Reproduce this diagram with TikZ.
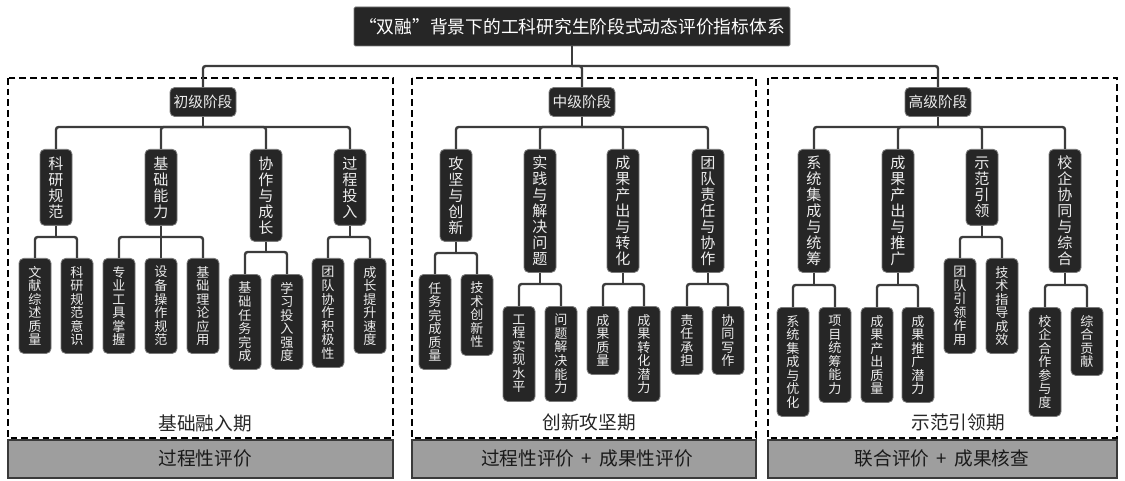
\documentclass[tikz,border=0pt]{standalone}
\usepackage{fontspec}
\newfontfamily\cjk{Noto Sans CJK SC}
\usetikzlibrary{calc}
\def\vstackloop#1#2\vstackend{#1\ifx\relax#2\relax\else\\\vstackloop#2\vstackend\fi}
\def\vstack#1{\vstackloop#1\vstackend}
\definecolor{boxfill}{HTML}{262626}
\definecolor{boxline}{HTML}{7A7A7A}
\definecolor{boxtext}{HTML}{ECECEC}
\definecolor{connc}{HTML}{3C3C3C}
\definecolor{barfill}{HTML}{9E9E9E}
\definecolor{bardraw}{HTML}{3A3A3A}
\begin{document}
\begin{tikzpicture}[x=0.75pt,y=-0.75pt,
  box/.style={draw=boxline, fill=boxfill, text=boxtext, rounded corners=3.5pt, line width=0.6pt, inner sep=0pt, minimum width=24pt, align=center},
  leafnode/.style={box, anchor=north, font=\cjk\fontsize{9.8}{10.15}\selectfont},
  midnode/.style={box, anchor=north, font=\cjk\fontsize{11.3}{12}\selectfont},
  stagenode/.style={box, minimum width=49.5pt, minimum height=21.75pt, font=\cjk\fontsize{11}{12}\selectfont},
  titlenode/.style={draw=boxline, fill=boxfill, text=white, line width=0.6pt, rounded corners=1pt, minimum width=327pt, minimum height=29.25pt, inner sep=0pt, font=\cjk\fontsize{13.3}{15}\selectfont},
  h4/.style={minimum height=51pt}, h5/.style={minimum height=60.75pt},
  h6/.style={minimum height=71.25pt}, h7/.style={minimum height=81.75pt},
  m4/.style={minimum height=57pt}, m5/.style={minimum height=69pt}, m7/.style={minimum height=92.25pt},
  conn/.style={draw=connc, line width=1.8pt, rounded corners=2pt},
  panel/.style={draw=black, dash pattern=on 5pt off 3pt, line width=1.3pt},
  bar/.style={draw=bardraw, fill=barfill, line width=1pt},
  periodlabel/.style={font=\cjk\fontsize{14}{16}\selectfont, text=black!85},
  barlabel/.style={font=\cjk\fontsize{14}{16}\selectfont, text=black!90}
]
\useasboundingbox (0,0) rectangle (1125,481);
\fill[white] (0,0) rectangle (1125,481);

% panels
\draw[panel] (8,78) rectangle (393,438);
\draw[panel] (412,78) rectangle (756,438);
\draw[panel] (768,78) rectangle (1117,438);
\draw[bar] (8,440) rectangle (393,478);
\draw[bar] (412,440) rectangle (756,478);
\draw[bar] (768,440) rectangle (1117,478);

% title and stages
\node[titlenode] (title) at (572,26.5) {“双融”背景下的工科研究生阶段式动态评价指标体系};
\node[stagenode] (s1) at (203,102) {初级阶段};
\node[stagenode] (s2) at (582,102) {中级阶段};
\node[stagenode] (s3) at (938,102) {高级阶段};

% left panel
\node[midnode,m4] (a1) at (56,149) {\vstack{科研规范}};
\node[midnode,m4] (a2) at (161,149) {\vstack{基础能力}};
\node[midnode,m5] (a3) at (266,149) {\vstack{协作与成长}};
\node[midnode,m4] (a4) at (350,149) {\vstack{过程投入}};
\node[leafnode,h6] (a11) at (35,258) {\vstack{文献综述质量}};
\node[leafnode,h6] (a12) at (77,258) {\vstack{科研规范意识}};
\node[leafnode,h6] (a21) at (119,258) {\vstack{专业工具掌握}};
\node[leafnode,h6] (a22) at (161,258) {\vstack{设备操作规范}};
\node[leafnode,h6] (a23) at (203,258) {\vstack{基础理论应用}};
\node[leafnode,h6] (a31) at (245,274) {\vstack{基础任务完成}};
\node[leafnode,h6] (a32) at (287,274) {\vstack{学习投入强度}};
\node[leafnode,h7] (a41) at (328,258) {\vstack{团队协作积极性}};
\node[leafnode,h6] (a42) at (370,258) {\vstack{成长提升速度}};

% middle panel
\node[midnode,m5] (b1) at (456,149) {\vstack{攻坚与创新}};
\node[midnode,m7] (b2) at (540,149) {\vstack{实践与解决问题}};
\node[midnode,m7] (b3) at (623,149) {\vstack{成果产出与转化}};
\node[midnode,m7] (b4) at (708,149) {\vstack{团队责任与协作}};
\node[leafnode,h6] (b11) at (435,274) {\vstack{任务完成质量}};
\node[leafnode,h5] (b12) at (477,274) {\vstack{技术创新性}};
\node[leafnode,h6] (b21) at (519,306) {\vstack{工程实现水平}};
\node[leafnode,h6] (b22) at (561,306) {\vstack{问题解决能力}};
\node[leafnode,h4] (b31) at (603,306) {\vstack{成果质量}};
\node[leafnode,h6] (b32) at (644,306) {\vstack{成果转化潜力}};
\node[leafnode,h4] (b41) at (687,306) {\vstack{责任承担}};
\node[leafnode,h4] (b42) at (728,306) {\vstack{协同写作}};

% right panel
\node[midnode,m7] (c1) at (814,149) {\vstack{系统集成与统筹}};
\node[midnode,m7] (c2) at (898,149) {\vstack{成果产出与推广}};
\node[midnode,m4] (c3) at (982,149) {\vstack{示范引领}};
\node[midnode,m7] (c4) at (1065,149) {\vstack{校企协同与综合}};
\node[leafnode,h7] (c11) at (793,307) {\vstack{系统集成与优化}};
\node[leafnode,h6] (c12) at (835,307) {\vstack{项目统筹能力}};
\node[leafnode,h6] (c21) at (877,307) {\vstack{成果产出质量}};
\node[leafnode,h6] (c22) at (918,307) {\vstack{成果推广潜力}};
\node[leafnode,h6] (c31) at (960,258) {\vstack{团队引领作用}};
\node[leafnode,h6] (c32) at (1002,258) {\vstack{技术指导成效}};
\node[leafnode,h7] (c41) at (1045,307) {\vstack{校企合作参与度}};
\node[leafnode,h4] (c42) at (1087,307) {\vstack{综合贡献}};

% period and bar labels
\node[periodlabel] (p1) at (205,423) {基础融入期};
\node[periodlabel] (p2) at (589,422) {创新攻坚期};
\node[periodlabel] (p3) at (958,422) {示范引领期};
\node[barlabel] (q1) at (205,458) {过程性评价};
\node[barlabel] (q2) at (587,458) {过程性评价 \,+\, 成果性评价};
\node[barlabel] (q3) at (942,458) {联合评价 \,+\, 成果核查};

% connectors: title
\coordinate (tb) at (572,66);
\draw[conn] (title.south) -- (tb);
\draw[conn] (tb) -| (s1.north);
\draw[conn] (tb) -| (s2.north);
\draw[conn] (tb) -| (s3.north);

% stage buses
\coordinate (s1b) at (203,127);
\coordinate (s2b) at (582,127);
\coordinate (s3b) at (938,127);
\draw[conn] (s1.south) -- (s1b);
\foreach \n in {a1,a2,a3,a4} \draw[conn] (s1b) -| (\n.north);
\draw[conn] (s2.south) -- (s2b);
\foreach \n in {b1,b2,b3,b4} \draw[conn] (s2b) -| (\n.north);
\draw[conn] (s3.south) -- (s3b);
\foreach \n in {c1,c2,c3,c4} \draw[conn] (s3b) -| (\n.north);

% leaf buses
\coordinate (a1b) at (56,237);
\coordinate (a2b) at (161,237);
\coordinate (a3b) at (266,252);
\coordinate (a4b) at (350,237);
\coordinate (b1b) at (456,253);
\coordinate (b2b) at (540,284);
\coordinate (b3b) at (623,284);
\coordinate (b4b) at (708,284);
\coordinate (c1b) at (814,285);
\coordinate (c2b) at (898,285);
\coordinate (c3b) at (982,237);
\coordinate (c4b) at (1065,285);
\foreach \p/\kids in {a1/{a11,a12},a2/{a21,a22,a23},a3/{a31,a32},a4/{a41,a42},
                       b1/{b11,b12},b2/{b21,b22},b3/{b31,b32},b4/{b41,b42},
                       c1/{c11,c12},c2/{c21,c22},c3/{c31,c32},c4/{c41,c42}}{
  \draw[conn] (\p.south) -- (\p b);
  \foreach \k in \kids \draw[conn] (\p b) -| (\k.north);
}
\end{tikzpicture}
\end{document}
